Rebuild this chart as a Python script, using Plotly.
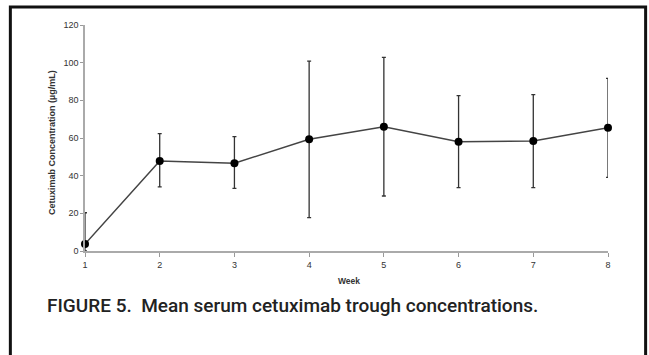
import plotly.graph_objects as go

weeks = [1, 2, 3, 4, 5, 6, 7, 8]
mean_conc = [3.7, 47.8, 46.6, 59.3, 66.0, 58.0, 58.4, 65.5]
upper_bar = [20.3, 62.3, 60.7, 100.8, 102.8, 82.5, 83.0, 91.7]
lower_bar = [0.0, 34.0, 33.3, 17.7, 29.2, 33.6, 33.6, 39.1]
y_ticks = [0, 20, 40, 60, 80, 100, 120]

err_plus = [u - m for u, m in zip(upper_bar, mean_conc)]
err_minus = [m - l for m, l in zip(mean_conc, lower_bar)]

W, H = 649, 355
L, R, T, B = 85, 41.3, 25, 104
pw = W - L - R
ph = H - T - B

def px_x(p):
    return (p - L) / pw

def px_y(p):
    return (H - B - p) / ph

fig = go.Figure()
fig.add_trace(go.Scatter(
    x=weeks, y=mean_conc, mode="lines+markers",
    line=dict(color="#444444", width=1.5),
    marker=dict(color="black", size=8),
    error_y=dict(type="data", symmetric=False, array=err_plus, arrayminus=err_minus,
                 color="#333333", thickness=1.3, width=2),
    cliponaxis=False,
    showlegend=False,
))

axfont = dict(family="Liberation Sans, Arial, sans-serif", size=9, color="#333333")
fig.update_layout(
    width=W, height=H,
    margin=dict(l=L, r=R, t=T, b=B, pad=0),
    paper_bgcolor="white", plot_bgcolor="white",
    xaxis=dict(range=[1, 8], tickvals=weeks, showgrid=False, zeroline=False,
               showline=True, linecolor="#aaaaaa", linewidth=1.5,
               ticks="outside", ticklen=4, tickcolor="#999999", tickwidth=1,
               tickfont=axfont),
    yaxis=dict(range=[0, 120], tickvals=y_ticks, showgrid=False, zeroline=False,
               showline=True, linecolor="#aaaaaa", linewidth=1.5,
               ticks="outside", ticklen=3, tickcolor="#999999", tickwidth=1,
               tickfont=axfont),
    font=axfont,
)

fig.add_annotation(text="<b>Week</b>", xref="paper", yref="paper",
                   x=px_x(348.5), y=px_y(281), xanchor="center", yanchor="middle",
                   showarrow=False, font=dict(family="Liberation Sans, Arial, sans-serif", size=8.5, color="#333333"))
fig.add_annotation(text="<b>Cetuximab Concentration (µg/mL)</b>", xref="paper", yref="paper",
                   x=px_x(52), y=px_y(142), xanchor="center", yanchor="middle", textangle=-90,
                   showarrow=False, font=dict(family="Liberation Sans, Arial, sans-serif", size=9, color="#333333"))
fig.add_annotation(text="FIGURE 5.  Mean serum cetuximab trough concentrations.", xref="paper", yref="paper",
                   x=px_x(45), y=px_y(305), xanchor="left", yanchor="middle",
                   showarrow=False,
                   font=dict(family="Roboto, sans-serif", weight=500,
                             size=19, color="#222222"))

fig.add_shape(type="rect", xref="paper", yref="paper",
              x0=px_x(10.4), x1=px_x(645.3), y0=px_y(370), y1=px_y(7),
              line=dict(color="#111111", width=3), fillcolor="rgba(0,0,0,0)", layer="above")

fig.write_html("out.html", config={"displayModeBar": False},
               post_script="document.body.style.margin='0';")
